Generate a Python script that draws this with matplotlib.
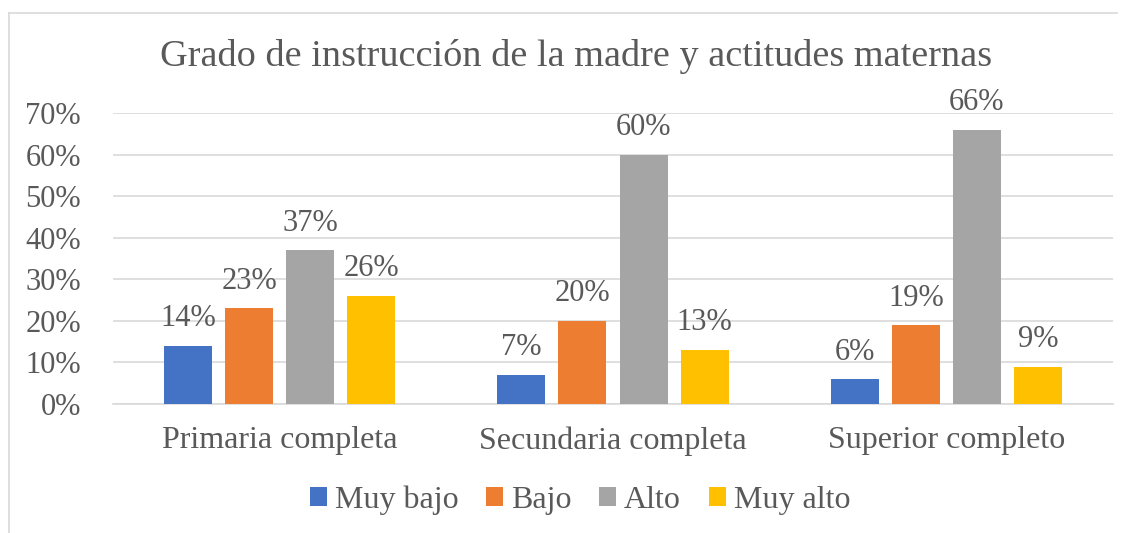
import matplotlib
matplotlib.use("Agg")
import matplotlib.pyplot as plt
from matplotlib.lines import Line2D
from matplotlib.patches import Patch
import numpy as np

categories = ["Primaria completa", "Secundaria completa", "Superior completo"]
series_names = ["Muy bajo", "Bajo", "Alto", "Muy alto"]
muy_bajo = [0.14, 0.07, 0.06]
bajo = [0.23, 0.20, 0.19]
alto = [0.37, 0.60, 0.66]
muy_alto = [0.26, 0.13, 0.09]
yticks = [0, 0.1, 0.2, 0.3, 0.4, 0.5, 0.6, 0.7]
colors = ["#4472C4", "#ED7D31", "#A5A5A5", "#FFC000"]

plt.rcParams['font.family'] = ['Liberation Serif', 'DejaVu Serif']
txt = "#595959"

W, H = 1129, 533
fig = plt.figure(figsize=(W/100, H/100), dpi=100)
ax = fig.add_axes([113/W, 1-404/H, 1000/W, 291/H])

series = [muy_bajo, bajo, alto, muy_alto]
bw = 48/333
step = 61/333
x = np.arange(len(categories))
for i, (vals, c) in enumerate(zip(series, colors)):
    pos = x + (i - 1.5) * step
    ax.bar(pos, vals, width=bw, color=c, zorder=3)
    for p, v in zip(pos, vals):
        ax.annotate(f"{round(v*100)}%", (p, v), xytext=(0, 9), textcoords="offset points",
                    ha="center", va="bottom", fontsize=22, color=txt)

ax.set_xlim(-0.5, 2.5)
ax.set_ylim(0, 0.7)
ax.set_yticks(yticks)
ax.set_yticklabels([f"{round(t*100)}%" for t in yticks], fontsize=22, color=txt)
ax.set_xticks(x)
ax.set_xticklabels(categories, fontsize=23, color=txt)
ax.tick_params(axis='both', length=0)
ax.tick_params(axis='y', pad=23)
ax.tick_params(axis='x', pad=16)
ax.yaxis.grid(True, color="#D9D9D9", linewidth=1.2, zorder=0)
ax.set_axisbelow(True)
for s in ["top", "right", "left"]:
    ax.spines[s].set_visible(False)
ax.spines["bottom"].set_color("#D9D9D9")
ax.spines["bottom"].set_linewidth(1.2)

fig.text(576/W, 1-57/H, "Grado de instrucción de la madre y actitudes maternas",
         ha="center", va="center", fontsize=27.5, color=txt)

handles = [Patch(facecolor=c, edgecolor='none') for c in colors]
fig.legend(handles, series_names, loc="center", bbox_to_anchor=(580/W, 1-500/H), ncol=4,
           frameon=False, fontsize=23, labelcolor=txt, handlelength=0.53, handleheight=0.53,
           handletextpad=0.25, columnspacing=0.87)

# chart border
fig.add_artist(Line2D([9/W, 9/W], [0, 1-13/H], color="#D9D9D9", linewidth=1.2))
fig.add_artist(Line2D([9/W, 1117/W], [1-13/H, 1-13/H], color="#D9D9D9", linewidth=1.2))

fig.savefig("out.png", dpi=100)
